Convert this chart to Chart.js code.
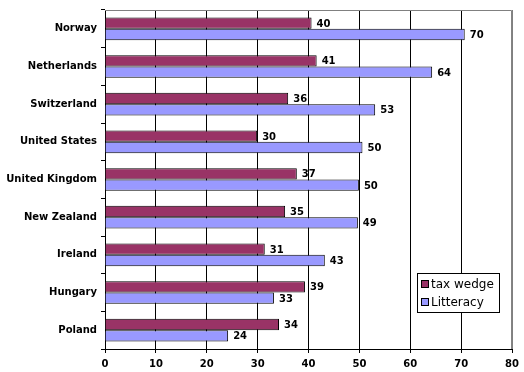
<!DOCTYPE html>
<html>
<head>
<meta charset="utf-8">
<script src="https://cdn.jsdelivr.net/npm/chart.js@4/dist/chart.umd.min.js"></script>
<style>
  html, body { margin: 0; padding: 0; background: #fff; }
  #wrap { width: 524px; height: 372px; }
</style>
</head>
<body>
<div id="wrap"><canvas id="chart" width="524" height="372"></canvas></div>
<script>
// ─── data ───
const categories = ['Norway', 'Netherlands', 'Switzerland', 'United States', 'United Kingdom',
                    'New Zealand', 'Ireland', 'Hungary', 'Poland'];
const taxWedge       = [40.6, 41.6, 36.0, 29.9, 37.7, 35.4, 31.4, 39.3, 34.2];
const taxWedgeLabels = [40, 41, 36, 30, 37, 35, 31, 39, 34];
const literacy       = [70.7, 64.3, 53.1, 50.6, 49.9, 49.7, 43.2, 33.2, 24.2];
const literacyLabels = [70, 64, 53, 50, 50, 49, 43, 33, 24];
const seriesNames    = ['tax wedge', 'Litteracy'];
const xTicks         = [0, 10, 20, 30, 40, 50, 60, 70, 80];

const COLORS = ['#993366', '#9999ff'];
const FONT = "'DejaVu Sans', Verdana, sans-serif";

// plot frame (gray top/right edge like the original)
const frame = {
  id: 'frame',
  beforeDatasetsDraw(chart) {
    const { ctx, chartArea: a } = chart;
    ctx.save();
    ctx.strokeStyle = '#808080';
    ctx.lineWidth = 1;
    ctx.beginPath();
    ctx.moveTo(a.left, a.top + 0.5);
    ctx.lineTo(a.right - 0.5, a.top + 0.5);
    ctx.lineTo(a.right - 0.5, a.bottom);
    ctx.stroke();
    ctx.restore();
  }
};

// value labels at bar ends + boxed legend
const extras = {
  id: 'extras',
  afterDatasetsDraw(chart) {
    const { ctx } = chart;
    const labelSets = [taxWedgeLabels, literacyLabels];
    ctx.save();
    ctx.font = 'bold 10px ' + FONT;
    ctx.fillStyle = '#000';
    ctx.textBaseline = 'middle';
    ctx.textAlign = 'left';
    chart.data.datasets.forEach((ds, i) => {
      chart.getDatasetMeta(i).data.forEach((bar, j) => {
        ctx.fillText(String(labelSets[i][j]), bar.x + 5, bar.y + 1);
      });
    });

    // legend box
    const lx = 417, ly = 273, lw = 82, lh = 39;
    ctx.fillStyle = '#fff';
    ctx.fillRect(lx, ly, lw, lh);
    ctx.strokeStyle = '#000';
    ctx.lineWidth = 1;
    ctx.strokeRect(lx + 0.5, ly + 0.5, lw, lh);
    ctx.font = '12px ' + FONT;
    seriesNames.forEach((name, i) => {
      const cy = ly + 11 + i * 18;
      ctx.fillStyle = COLORS[i];
      ctx.fillRect(421, cy - 4, 8, 8);
      ctx.strokeStyle = '#000';
      ctx.strokeRect(421.5, cy - 3.5, 7, 7);
      ctx.fillStyle = '#000';
      ctx.fillText(name, 431, cy + 1);
    });
    ctx.restore();
  }
};

new Chart(document.getElementById('chart'), {
  type: 'bar',
  data: {
    labels: categories,
    datasets: [taxWedge, literacy].map((vals, i) => ({
      label: seriesNames[i],
      data: vals,
      backgroundColor: COLORS[i],
      borderColor: '#000',
      borderWidth: 1,
      categoryPercentage: 0.6,
      barPercentage: 1.0,
    })),
  },
  options: {
    indexAxis: 'y',
    responsive: false,
    devicePixelRatio: 1,
    animation: false,
    layout: { padding: { top: 8, right: 11, left: 0, bottom: 0 } },
    plugins: { legend: { display: false }, tooltip: { enabled: false } },
    scales: {
      x: {
        min: 0, max: 80,
        afterBuildTicks: (s) => { s.ticks = xTicks.map((v) => ({ value: v })); },
        afterFit: (s) => { s.height = 23; },
        grid: {
          color: (c) => (c.tick && c.tick.value === 80 ? '#808080' : '#000'),
          tickColor: '#000',
          tickLength: 4,
          lineWidth: 1,
        },
        border: { color: '#000' },
        ticks: { color: '#000', padding: 5, font: { family: FONT, size: 10, weight: 'bold' } },
      },
      y: {
        afterFit: (s) => { s.width = 105; },
        grid: { offset: true, drawOnChartArea: false, tickLength: 4, color: '#000' },
        border: { color: '#000' },
        ticks: { color: '#000', padding: 4, font: { family: FONT, size: 10, weight: 'bold' } },
      },
    },
  },
  plugins: [frame, extras],
});
</script>
</body>
</html>
